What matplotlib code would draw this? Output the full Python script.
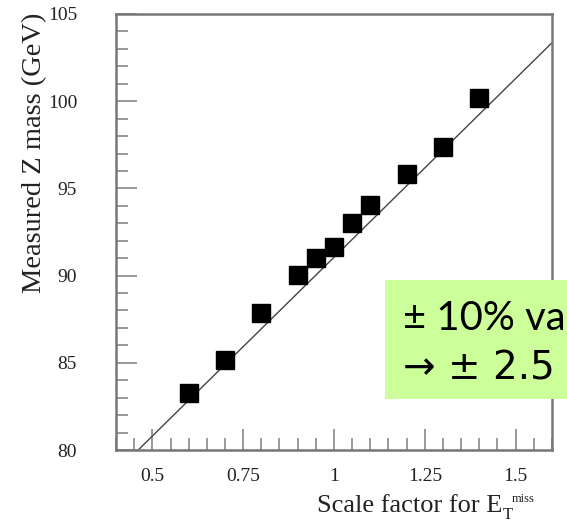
import matplotlib
matplotlib.use('Agg')
import matplotlib.pyplot as plt
from matplotlib.ticker import MultipleLocator

# scale factor vs measured Z mass
scale = [0.6, 0.7, 0.8, 0.9, 0.95, 1.0, 1.05, 1.1, 1.2, 1.3, 1.4]
zmass = [83.25, 85.16, 87.84, 90.03, 91.0, 91.66, 93.0, 94.05, 95.83, 97.4, 100.2]

# straight line through the points
fit_x = [0.461, 1.6]
fit_y = [80.0, 103.35]

xticks = [0.5, 0.75, 1.0, 1.25, 1.5]
xticklabels = ['0.5', '0.75', '1', '1.25', '1.5']
yticks = [80, 85, 90, 95, 100, 105]

plt.rcParams['font.family'] = ['Liberation Serif', 'DejaVu Serif']

fig = plt.figure(figsize=(5.67, 5.22), dpi=100)
ax = fig.add_axes([0.2046, 0.1379, 0.7689, 0.8353])

ax.plot(fit_x, fit_y, color='#444444', lw=1.0, zorder=2)
ax.plot(scale, zmass, 's', color='black', ms=13, zorder=3)

ax.set_xlim(0.4, 1.6)
ax.set_ylim(80, 105)
ax.set_xticks(xticks)
ax.set_xticklabels(xticklabels)
ax.set_yticks(yticks)
ax.xaxis.set_minor_locator(MultipleLocator(0.05))
ax.yaxis.set_minor_locator(MultipleLocator(1))
ax.tick_params(which='both', direction='in', colors='#888888', labelcolor='#222222',
               labelsize=14, top=False, right=False)
ax.tick_params(which='major', length=15, width=1.2)
ax.tick_params(which='minor', length=8.5, width=1.2)
ax.tick_params(axis='y', which='major', pad=28)
ax.tick_params(axis='x', which='major', pad=13)
for s in ax.spines.values():
    s.set_color('#777777')
    s.set_linewidth(1.8)

fig.text(35 / 567, 1 - 13 / 522, 'Measured Z mass (GeV)', fontsize=20.5, rotation=90,
         color='#222222', ha='center', va='top')

# x label: main text, then subscript T and small superscript "miss"
xl = fig.text(317 / 567, 1 - 512 / 522, 'Scale factor for E', fontsize=19,
              color='#222222', ha='left', va='baseline')
fig.canvas.draw()
x_end = xl.get_window_extent().x1 / fig.bbox.width
fig.text(x_end, 1 - 519 / 522, 'T', fontsize=12, color='#222222', ha='left', va='baseline')
fig.text(x_end + 9 / 567, 1 - 502 / 522, 'miss', fontsize=9, color='#222222',
         ha='left', va='baseline')

# green note box, running to the right edge of the picture
note = fig.add_axes([385 / 567, 1 - 399 / 522, 1 - 385 / 567, 119 / 522], zorder=5)
note.set_facecolor('#ccff99')
note.set_xticks([])
note.set_yticks([])
for s in note.spines.values():
    s.set_visible(False)
note.text(18 / 182, 69 / 119, '± 10% va', fontsize=28.8, family=['Lato', 'DejaVu Sans'],
          color='black', ha='left', va='baseline', transform=note.transAxes)
note.text(18 / 182, 19 / 119, '→ ± 2.5', fontsize=28, family=['DejaVu Sans'],
          color='black', ha='left', va='baseline', transform=note.transAxes)

fig.savefig('out.png', dpi=100)
